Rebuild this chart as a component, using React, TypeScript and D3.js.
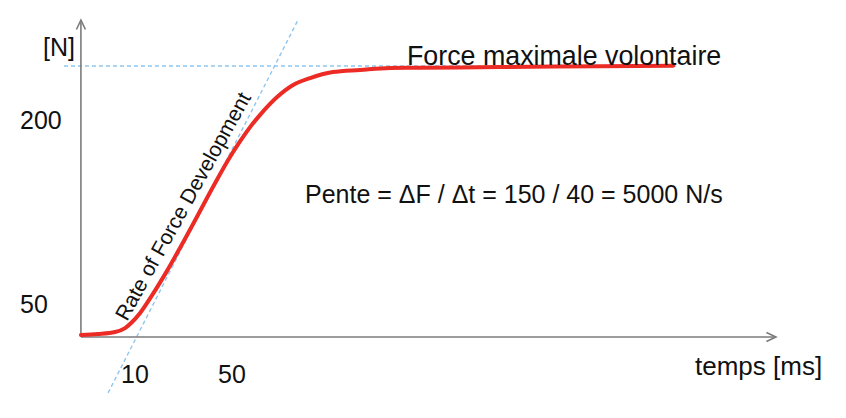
import React, { useEffect } from "react";
import * as d3 from "d3";

// ---- data (ms, N) ----
const curveTime = [-12.3, -5.3, 1.8, 5.9, 8.4, 12.1, 17, 23.2, 28.5, 33.9, 42.6, 48, 53.3, 57, 61.5, 68.6, 75.2, 82.2, 91.6, 102.8, 115.2, 127.5, 160.5, 201.8, 231.9];
const curveForce = [24.7, 25.5, 27.2, 30.4, 34.5, 42.7, 57, 77, 95.5, 115, 147, 166, 182.5, 193, 204, 218.7, 228.5, 234.2, 239.1, 240.8, 242.4, 242.6, 243.2, 243.8, 244.3];

const slopeTime = [-1.1, 77.2];
const slopeForce = [-22.5, 281.5];

const maxForce = 244;
const maxLineTime = [-19.3, 233.1];

const xTicks = [10, 50];
const yTicks = [200, 50];

const axisOriginTime = -12.3;
const axisOriginForce = 23.1;
const axisEndTime = 274.3;
const axisEndForce = 281.5;

const xLabel = "temps [ms]";
const yLabel = "[N]";
const maxLabel = "Force maximale volontaire";
const slopeLabel = "Pente = ΔF / Δt = 150 / 40 = 5000 N/s";
const rfdLabel = "Rate of Force Development";

const W = 846;
const H = 418;
const FONT = "'Liberation Sans', Arial, Helvetica, sans-serif";

export default function App() {
  useEffect(() => {
    document.body.style.margin = "0";
  }, []);

  const x = d3.scaleLinear().domain([10, 50]).range([135, 232]);
  const y = d3.scaleLinear().domain([50, 200]).range([304, 120]);

  const pts: [number, number][] = curveTime.map((t, i) => [t, curveForce[i]]);
  const line = d3
    .line<[number, number]>()
    .x((d) => x(d[0]))
    .y((d) => y(d[1]))
    .curve(d3.curveMonotoneX);

  const ox = x(axisOriginTime);
  const oy = y(axisOriginForce);
  const ex = x(axisEndTime);
  const ey = y(axisEndForce);

  const axisColor = "#7b7b7b";
  const dashColor = "#8ec6ee";

  return (
    <svg width={W} height={H} style={{ display: "block", position: "absolute", left: 0, top: 0, background: "#fff" }}>
      {/* dashed guides */}
      <line
        x1={x(maxLineTime[0])}
        x2={x(maxLineTime[1])}
        y1={y(maxForce)}
        y2={y(maxForce)}
        stroke={dashColor}
        strokeWidth={1.4}
        strokeDasharray="4,3"
      />
      <line
        x1={x(slopeTime[0])}
        y1={y(slopeForce[0])}
        x2={x(slopeTime[1])}
        y2={y(slopeForce[1])}
        stroke={dashColor}
        strokeWidth={1.4}
        strokeDasharray="4,3"
      />
      {/* axes */}
      <line x1={ox} y1={oy} x2={ox} y2={ey} stroke={axisColor} strokeWidth={1.6} />
      <line x1={ox} y1={oy} x2={ex} y2={oy} stroke={axisColor} strokeWidth={1.6} />
      <path d={`M${ox - 4.5},${ey + 9.5} L${ox},${ey} L${ox + 4.5},${ey + 9.5}`} fill="none" stroke={axisColor} strokeWidth={1.6} />
      <path d={`M${ex - 9.5},${oy - 4.5} L${ex},${oy} L${ex - 9.5},${oy + 4.5}`} fill="none" stroke={axisColor} strokeWidth={1.6} />

      {/* curve */}
      <path d={line(pts) || ""} fill="none" stroke="#ec2b25" strokeWidth={4} strokeLinecap="round" strokeLinejoin="round" />

      {/* tick labels */}
      {xTicks.map((t) => (
        <text key={"x" + t} x={x(t)} y={383} textAnchor="middle" fontFamily={FONT} fontSize={25} fill="#111">
          {t}
        </text>
      ))}
      {yTicks.map((t) => (
        <text key={"y" + t} x={20} y={y(t) + 9} textAnchor="start" fontFamily={FONT} fontSize={25} fill="#111">
          {t}
        </text>
      ))}

      {/* labels */}
      <text x={43} y={56} fontFamily={FONT} fontSize={25} fill="#111">
        {yLabel}
      </text>
      <text x={695} y={375} fontFamily={FONT} fontSize={26} fill="#111">
        {xLabel}
      </text>
      <text x={407} y={65} fontFamily={FONT} fontSize={26.8} fill="#111">
        {maxLabel}
      </text>
      <text x={305} y={203} fontFamily={FONT} fontSize={25} fill="#111">
        {slopeLabel}
      </text>
      <text transform="translate(127,322) rotate(-61)" fontFamily={FONT} fontSize={21} fill="#111">
        {rfdLabel}
      </text>
    </svg>
  );
}
